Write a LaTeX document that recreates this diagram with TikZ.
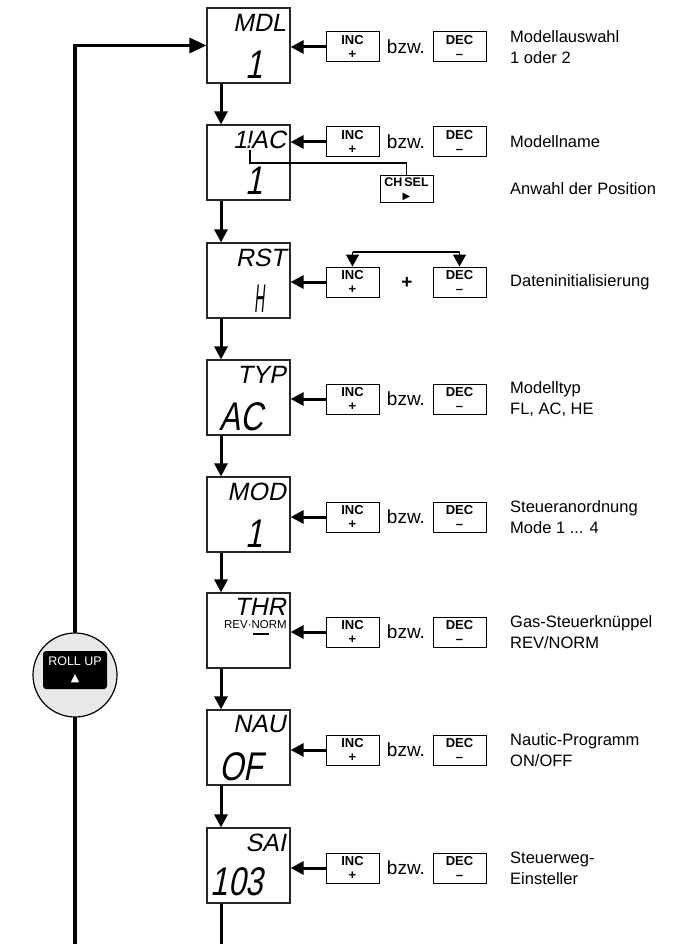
\documentclass[tikz,border=0pt]{standalone}
\usepackage{fontspec}
\setmainfont{Liberation Sans}
\newfontfamily\descfont{Liberation Sans}
\newfontfamily\segfont[FakeSlant=0.2]{Liberation Sans}
\newfontfamily\valfont[FakeSlant=0.2,FakeStretch=0.78]{Liberation Sans}
\newfontfamily\symfont{DejaVu Sans}
\usetikzlibrary{arrows.meta,calc}
\tikzset{
 disp/.style={draw=black!85, line width=1.2pt, minimum width=83pt, minimum height=75pt, inner sep=0pt},
 keybox/.style={draw, line width=1pt, minimum width=53pt, minimum height=30pt, inner sep=0pt, align=center, font=\fontsize{13}{14}\selectfont},
 flow/.style={line width=3pt, -{Triangle[length=13pt,width=13pt]}},
 thinl/.style={line width=1.5pt},
 desc/.style={anchor=west, align=left, inner sep=0pt, font=\descfont\fontsize{16.5}{21}\selectfont},
 bzwtxt/.style={font=\fontsize{19}{20}\selectfont, inner sep=0pt},
 toplbl/.style={anchor=east, inner sep=0pt, font=\segfont\fontsize{25}{25}\selectfont},
 valtxt/.style={anchor=east, inner sep=0pt, font=\valfont\fontsize{40}{40}\selectfont},
}
\begin{document}
\begin{tikzpicture}[x=1pt,y=-1pt]
\useasboundingbox (0,0) rectangle (672,944);
\coordinate (ax) at (221,944);
\coordinate (lb) at (75,944);
% displays
\node[disp] (d1) at (248.5,45.5) {};
\node[disp] (d2) at (248.5,162.5) {};
\node[disp] (d3) at (248.5,280.5) {};
\node[disp] (d4) at (248.5,397.5) {};
\node[disp] (d5) at (248.5,514.5) {};
\node[disp] (d6) at (248.5,630.5) {};
\node[disp] (d7) at (248.5,747.5) {};
\node[disp] (d8) at (248.5,865.5) {};
% display texts
\node[toplbl] (t1) at (286,22.5) {MDL};
\node[valtxt] (v1) at (263,65) {1};
\node[toplbl] (t2) at (286,139.5) {1\kern-2pt!\kern-1pt AC};
\node[valtxt] (v2) at (263,181) {1};
\node[toplbl] (t3) at (286,257.5) {RST};
\node[valtxt] (v3) at (265,299) {\scalebox{0.45}[1]{H}};
\node[toplbl] (t4) at (286,374.5) {TYP};
\node[valtxt] (v4) at (263,417) {AC};
\node[toplbl] (t5) at (286,491.5) {MOD};
\node[valtxt] (v5) at (263,534) {1};
\node[toplbl] (t6) at (286,607) {THR};
\node[anchor=east, inner sep=0pt, font=\fontsize{11.5}{11.5}\selectfont] (rn) at (287,625) {REV·NORM};
\draw[line width=1.8pt] (253,634) -- (269,634);
\node[toplbl] (t7) at (286,724.5) {NAU};
\node[valtxt] (v7) at (263,767) {OF};
\node[toplbl] (t8) at (286,842.5) {SAI};
\node[valtxt] (v8) at (263,882) {103};
% vertical flow
\draw[flow] (d1.south -| ax) -- (d2.north -| ax);
\draw[flow] (d2.south -| ax) -- (d3.north -| ax);
\draw[flow] (d3.south -| ax) -- (d4.north -| ax);
\draw[flow] (d4.south -| ax) -- (d5.north -| ax);
\draw[flow] (d5.south -| ax) -- (d6.north -| ax);
\draw[flow] (d6.south -| ax) -- (d7.north -| ax);
\draw[flow] (d7.south -| ax) -- (d8.north -| ax);
\draw[line width=3pt] (d8.south -| ax) -- (ax);
% loop
\draw[line width=3.2pt, -{Triangle[length=17pt,width=15pt]}] (lb) |- (d1.west);
\node[circle, draw, line width=1.2pt, fill=gray!18, minimum size=84pt, inner sep=0pt] (roll) at (75,675) {};
\node[fill=black, rounded corners=3pt, minimum width=64pt, minimum height=38pt, inner sep=0pt, text=white, align=center, font=\fontsize{12.5}{16}\selectfont] (rl) at (75,670) {ROLL UP\\{\symfont\fontsize{11}{11}\selectfont ▲}};
% key rows
\foreach \i/\y in {1/47,2/142,3/282,4/399,5/517,6/632,7/750,8/868}{
  \node[keybox] (inc\i) at (352.5,\y) {\textbf{INC}\\\textbf{+}};
  \node[keybox] (dec\i) at (459.5,\y) {\textbf{DEC}\\\textbf{–}};
  \draw[flow] (inc\i.west) -- (inc\i.west -| d\i.east);
}
\foreach \i/\y in {1/47,2/142,4/399,5/517,6/632,7/750,8/868}{
  \node[bzwtxt] (bz\i) at (406,\y) {bzw.};
}
\node[bzwtxt] (plus3) at (407,283) {\textbf{+}};
% row 2 bracket
\node[keybox, minimum width=53pt, minimum height=26pt, font=\fontsize{12.5}{13}\selectfont] (ch) at (406.5,189) {\textbf{CH\,SEL}\\{\symfont\fontsize{10}{10}\selectfont ▶}};
\coordinate (b2a) at (250,150);
\coordinate (b2c) at (406.5,163);
\draw[thinl] (b2a) |- (b2c) -- (ch.north);
% row 3 bracket
\coordinate (b3a) at (352.5,252);
\coordinate (b3b) at (459.5,252);
\draw[thinl] (b3a) -- (b3b);
\draw[thinl, -{Triangle[length=12pt,width=13pt]}] (b3a) -- (inc3.north);
\draw[thinl, -{Triangle[length=12pt,width=13pt]}] (b3b) -- (dec3.north);
% descriptions
\node[desc] (m1) at (510,47) {Modellauswahl\\1 oder 2};
\node[desc] (m2) at (510,142) {Modellname};
\node[desc] (m2b) at (510,189) {Anwahl der Position};
\node[desc] (m3) at (510,282) {Dateninitialisierung};
\node[desc] (m4) at (510,399) {Modelltyp\\FL, AC, HE};
\node[desc] (m5) at (510,517) {Steueranordnung\\Mode 1 ... 4};
\node[desc] (m6) at (510,632) {Gas-Steuerknüppel\\REV/NORM};
\node[desc] (m7) at (510,750) {Nautic-Programm\\ON/OFF};
\node[desc] (m8) at (510,868) {Steuerweg-\\Einsteller};
\end{tikzpicture}
\end{document}
